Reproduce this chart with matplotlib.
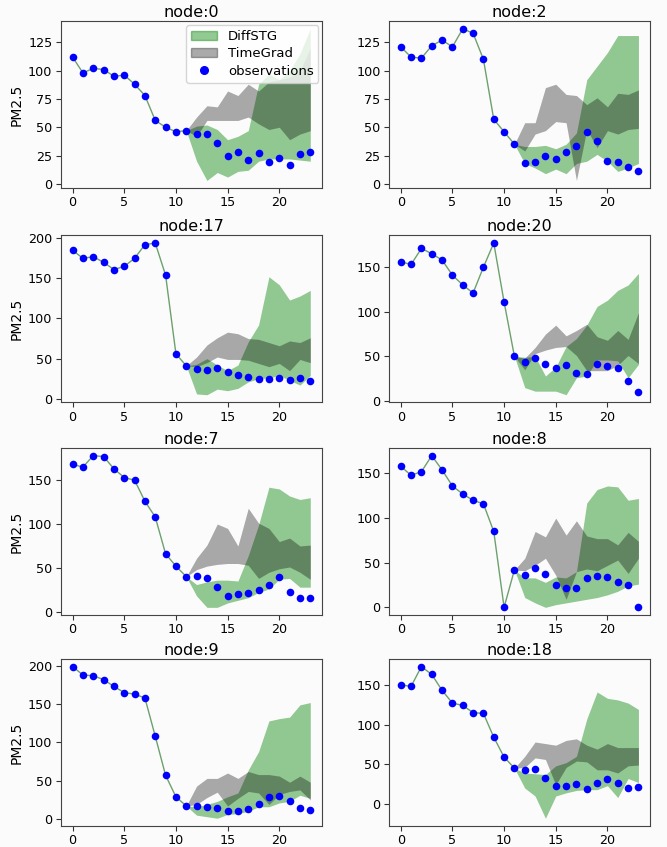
# PM2.5 forecast comparison: DiffSTG vs TimeGrad on 8 nodes

import numpy as np
import matplotlib
matplotlib.use("Agg")
import matplotlib.pyplot as plt
from matplotlib.patches import Patch
from matplotlib.lines import Line2D

# -----------------------------------
# Data (history 0..10, forecast 11..23)
# -----------------------------------

hours = list(range(24))
future = list(range(11, 24))

node_names = ["node:0", "node:2", "node:17", "node:20",
              "node:7", "node:8", "node:9", "node:18"]

obs_0 = [112, 98, 102, 101, 95, 96, 88, 78, 56, 50, 46, 47, 44, 44, 36, 25, 28, 21, 27, 19, 23, 17, 26, 28]
diff_lo_0 = [47, 20, 3, 10, 6, 11, 12, 20, 22, 22, 22, 21, 20]
diff_hi_0 = [47, 51, 52, 48, 39, 42, 47, 88, 97, 92, 100, 115, 137]
tg_lo_0 = [47, 42, 56, 56, 56, 56, 59, 53, 48, 50, 39, 44, 47]
tg_hi_0 = [47, 59, 69, 68, 82, 78, 88, 82, 90, 92, 94, 100, 120]

obs_2 = [121, 112, 111, 122, 127, 121, 137, 133, 110, 57, 46, 35, 18, 19, 25, 22, 28, 33, 46, 38, 20, 19, 15, 11]
diff_lo_2 = [35, 18, 14, 9, 13, 9, 18, 20, 26, 20, 11, 14, 18]
diff_hi_2 = [35, 33, 33, 34, 31, 35, 45, 92, 104, 116, 131, 131, 131]
tg_lo_2 = [35, 29, 44, 47, 55, 54, 3, 48, 32, 47, 44, 48, 49]
tg_hi_2 = [35, 54, 54, 85, 88, 79, 78, 70, 76, 68, 80, 79, 83]

obs_17 = [185, 175, 177, 170, 161, 165, 175, 192, 194, 154, 56, 41, 37, 36, 38, 33, 29, 27, 25, 25, 26, 23, 26, 22]
diff_lo_17 = [41, 6, 5, 12, 10, 13, 21, 25, 26, 29, 23, 17, 29]
diff_hi_17 = [41, 43, 50, 42, 35, 42, 71, 92, 152, 142, 123, 128, 135]
tg_lo_17 = [41, 40, 45, 52, 49, 49, 48, 44, 40, 44, 35, 49, 45]
tg_hi_17 = [41, 52, 67, 76, 83, 81, 75, 74, 70, 66, 72, 70, 76]

obs_20 = [156, 153, 171, 165, 158, 141, 130, 121, 150, 177, 111, 50, 44, 48, 41, 37, 40, 31, 30, 42, 39, 37, 22, 10]
diff_lo_20 = [50, 15, 11, 11, 11, 7, 26, 28, 46, 46, 45, 26, 41]
diff_hi_20 = [50, 49, 50, 28, 38, 61, 70, 85, 106, 113, 124, 130, 143]
tg_lo_20 = [50, 35, 53, 57, 60, 61, 51, 34, 34, 34, 40, 51, 42]
tg_hi_20 = [50, 48, 60, 75, 85, 73, 79, 86, 72, 68, 79, 69, 99]

obs_7 = [168, 165, 178, 177, 163, 153, 150, 126, 108, 66, 52, 40, 41, 38, 28, 18, 20, 21, 25, 30, 40, 23, 16, 16]
diff_lo_7 = [40, 18, 5, 5, 10, 13, 16, 22, 26, 37, 38, 28, 28]
diff_hi_7 = [40, 31, 34, 36, 36, 35, 64, 99, 142, 140, 132, 128, 130]
tg_lo_7 = [40, 48, 52, 54, 55, 55, 53, 38, 45, 49, 51, 45, 37]
tg_hi_7 = [40, 61, 76, 100, 95, 75, 118, 101, 95, 80, 84, 75, 76]

obs_8 = [158, 148, 152, 170, 154, 136, 127, 120, 116, 85, 0, 42, 36, 44, 37, 25, 22, 22, 33, 35, 34, 28, 25, 0]
diff_lo_8 = [42, 11, 5, 0, 3, 5, 7, 9, 11, 14, 18, 24, 26]
diff_hi_8 = [42, 33, 33, 28, 34, 33, 40, 117, 132, 136, 135, 120, 122]
tg_lo_8 = [42, 41, 47, 55, 36, 9, 40, 43, 41, 47, 53, 38, 55]
tg_hi_8 = [42, 55, 85, 79, 100, 81, 97, 80, 77, 77, 70, 84, 74]

obs_9 = [199, 188, 187, 182, 173, 165, 163, 158, 108, 57, 29, 17, 17, 16, 14, 11, 11, 13, 19, 29, 30, 23, 14, 12]
diff_lo_9 = [17, 5, 3, 1, 6, 7, 10, 16, 16, 21, 23, 31, 27]
diff_hi_9 = [17, 16, 19, 23, 29, 34, 64, 88, 128, 131, 133, 149, 152]
tg_lo_9 = [17, 19, 28, 35, 17, 27, 36, 34, 19, 32, 36, 38, 25]
tg_hi_9 = [17, 43, 53, 53, 60, 53, 62, 58, 58, 56, 48, 56, 48]

obs_18 = [150, 148, 173, 163, 143, 127, 124, 115, 114, 84, 59, 45, 43, 44, 33, 22, 22, 25, 19, 26, 32, 26, 20, 21]
diff_lo_18 = [45, 20, 10, -18, 10, 14, 17, 18, 18, 23, 8, 32, 27]
diff_hi_18 = [45, 39, 38, 37, 48, 52, 60, 107, 141, 133, 131, 127, 119]
tg_lo_18 = [45, 46, 58, 56, 24, 46, 54, 53, 43, 43, 39, 48, 49]
tg_hi_18 = [45, 60, 78, 76, 74, 80, 82, 74, 69, 76, 71, 71, 71]

panels = [
    (obs_0, diff_lo_0, diff_hi_0, tg_lo_0, tg_hi_0),
    (obs_2, diff_lo_2, diff_hi_2, tg_lo_2, tg_hi_2),
    (obs_17, diff_lo_17, diff_hi_17, tg_lo_17, tg_hi_17),
    (obs_20, diff_lo_20, diff_hi_20, tg_lo_20, tg_hi_20),
    (obs_7, diff_lo_7, diff_hi_7, tg_lo_7, tg_hi_7),
    (obs_8, diff_lo_8, diff_hi_8, tg_lo_8, tg_hi_8),
    (obs_9, diff_lo_9, diff_hi_9, tg_lo_9, tg_hi_9),
    (obs_18, diff_lo_18, diff_hi_18, tg_lo_18, tg_hi_18),
]

# -----------------------------------
# Figure layout
# -----------------------------------

bg = "#fbfbfb"
fig = plt.figure(figsize=(6.67, 8.47), dpi=100, facecolor=bg)

lefts = [0.091, 0.583]
bottoms = [0.778, 0.525, 0.274, 0.025]
w, h = 0.392, 0.197

diff_color = "green"
tg_color = "black"

for i, (obs, d_lo, d_hi, t_lo, t_hi) in enumerate(panels):
    row, col = divmod(i, 2)
    ax = fig.add_axes([lefts[col], bottoms[row], w, h], facecolor=bg)

    ax.fill_between(future, d_lo, d_hi, color=diff_color, alpha=0.42, linewidth=0)
    ax.fill_between(future, t_lo, t_hi, color=tg_color, alpha=0.33, linewidth=0)

    # history line up to the forecast start
    ax.plot(hours[:12], obs[:12], color="#4a8a4a", linewidth=1, alpha=0.8)
    ax.scatter(hours, obs, s=30, color="blue", zorder=3, linewidths=0)

    ax.set_title(node_names[i], fontsize=11.5, pad=3)
    ax.set_xticks([0, 5, 10, 15, 20])
    ax.tick_params(labelsize=9.2, length=3.5, pad=2.5, color="#333333")
    for sp in ax.spines.values():
        sp.set_color("#444444")
    if col == 0:
        ax.set_ylabel("PM2.5", fontsize=10, labelpad=3)

    if i == 0:
        handles = [
            Patch(facecolor=diff_color, alpha=0.42, edgecolor=diff_color, label="DiffSTG"),
            Patch(facecolor=tg_color, alpha=0.33, edgecolor=tg_color, label="TimeGrad"),
            Line2D([], [], marker="o", linestyle="none", color="blue",
                   markersize=5.5, label="observations"),
        ]
        ax.legend(handles=handles, loc="upper right", fontsize=9.5,
                  handlelength=2.0, borderpad=0.35, labelspacing=0.35,
                  handletextpad=0.8, borderaxespad=0.3)

fig.savefig("out.png", dpi=100, facecolor=bg)
